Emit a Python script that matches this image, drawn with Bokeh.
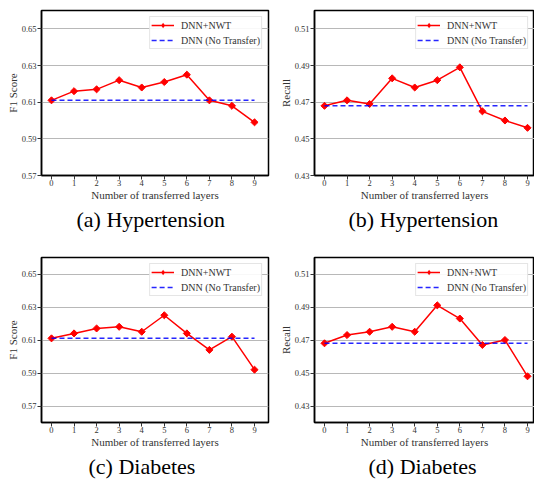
import numpy as np
from bokeh.plotting import figure
from bokeh.models import Range1d, FixedTicker, Legend, LegendItem, Title, NumeralTickFormatter
from bokeh.layouts import gridplot
from bokeh.embed import file_html
from bokeh.resources import INLINE

# ---- data ----
layers = [0, 1, 2, 3, 4, 5, 6, 7, 8, 9]

f1_hyp = [0.611, 0.616, 0.617, 0.622, 0.618, 0.621, 0.625, 0.611, 0.608, 0.599]
f1_hyp_base = 0.611
rec_hyp = [0.468, 0.471, 0.469, 0.483, 0.478, 0.482, 0.489, 0.465, 0.460, 0.456]
rec_hyp_base = 0.468
f1_dia = [0.611, 0.614, 0.617, 0.618, 0.615, 0.625, 0.614, 0.604, 0.612, 0.592]
f1_dia_base = 0.611
rec_dia = [0.468, 0.473, 0.475, 0.478, 0.475, 0.491, 0.483, 0.467, 0.470, 0.448]
rec_dia_base = 0.468

f1_ticks = [0.57, 0.59, 0.61, 0.63, 0.65]
rec_ticks = [0.43, 0.45, 0.47, 0.49, 0.51]

series_labels = ["DNN+NWT", "DNN (No Transfer)"]
x_label = "Number of transferred layers"
captions = ["(a) Hypertension", "(b) Hypertension", "(c) Diabetes", "(d) Diabetes"]

FONT = "Liberation Serif"
TXT = "#333333"


def panel(values, base, ylabel, y_start, y_end, yticks, caption, cap_offset, left_col, top_row):
    if left_col:
        fw, mbl, mbr, xr = 227, 41, 8, Range1d(-0.443, 9.62)
    else:
        fw, mbl, mbr, xr = 220, 38, 0, Range1d(-0.443, 9.31)
    if top_row:
        mbt, fh, mbb = 10, 165, 65
    else:
        mbt, fh, mbb = 17, 165, 56
    p = figure(frame_width=fw, frame_height=fh,
               min_border_left=mbl, min_border_right=mbr,
               min_border_top=mbt, min_border_bottom=mbb,
               x_range=xr, y_range=Range1d(y_start, y_end),
               output_backend="svg", toolbar_location=None, tools="",
               title=None)
    p.background_fill_color = "white"
    p.border_fill_color = "white"
    p.outline_line_color = "black"
    p.outline_line_width = 1.5

    r1 = p.line(layers, values, line_color="red", line_width=1.5)
    p.scatter(layers, values, marker="square", angle=np.pi / 4, size=5,
              fill_color="red", line_color="red")
    # legend sample marker: zero-size diamonds (the legend sizes its own sample)
    r2 = p.scatter(layers, values, marker="diamond", size=0,
                   fill_color="red", line_color=None)
    r3 = p.line([layers[0], layers[-1]], [base, base], line_color="blue",
                line_alpha=0.85, line_dash="5 3", line_width=1.5)

    legend = Legend(items=[LegendItem(label=series_labels[0], renderers=[r1, r2]),
                           LegendItem(label=series_labels[1], renderers=[r3])],
                    location="top_right", margin=6, padding=1, spacing=1,
                    glyph_width=23, glyph_height=14, label_height=14, label_standoff=7,
                    label_text_font=FONT, label_text_font_size="10px", label_text_color=TXT,
                    border_line_color="#cccccc", border_line_width=1,
                    background_fill_alpha=0.9)
    p.add_layout(legend)

    p.xaxis.ticker = FixedTicker(ticks=layers)
    p.yaxis.ticker = FixedTicker(ticks=yticks)
    p.yaxis.formatter = NumeralTickFormatter(format="0.00")
    p.xaxis.axis_label = x_label
    p.yaxis.axis_label = ylabel
    for ax in (p.xaxis, p.yaxis):
        ax.axis_line_color = "black"
        ax.axis_line_width = 1.5
        ax.major_tick_line_color = TXT
        ax.major_tick_out = 4
        ax.major_tick_in = 0
        ax.minor_tick_line_color = None
        ax.major_label_text_font = FONT
        ax.major_label_text_font_size = "8.5px"
        ax.major_label_text_color = TXT
        ax.major_label_standoff = 1
        ax.axis_label_text_font = FONT
        ax.axis_label_text_font_size = "11px"
        ax.axis_label_text_font_style = "normal"
        ax.axis_label_text_color = TXT
        ax.axis_label_standoff = 0
    p.xaxis.major_label_standoff = 0
    p.xgrid.grid_line_color = None
    p.ygrid.grid_line_color = "#b8b8b8"
    p.ygrid.grid_line_width = 1

    p.add_layout(Title(text=caption, align="left", offset=cap_offset, text_font=FONT,
                       text_font_size="22px", text_font_style="normal",
                       text_color="black", standoff=2), "below")
    return p


pa = panel(f1_hyp, f1_hyp_base, "F1 Score", 0.57, 0.66, f1_ticks, captions[0], 35, True, True)
pb = panel(rec_hyp, rec_hyp_base, "Recall", 0.43, 0.52, rec_ticks, captions[1], 34, False, True)
pc = panel(f1_dia, f1_dia_base, "F1 Score", 0.56, 0.66, f1_ticks, captions[2], 47, True, False)
pd = panel(rec_dia, rec_dia_base, "Recall", 0.42, 0.52, rec_ticks, captions[3], 54, False, False)

grid = gridplot([[pa, pb], [pc, pd]], toolbar_location=None)

open("out.html", "w").write(file_html(grid, INLINE))
